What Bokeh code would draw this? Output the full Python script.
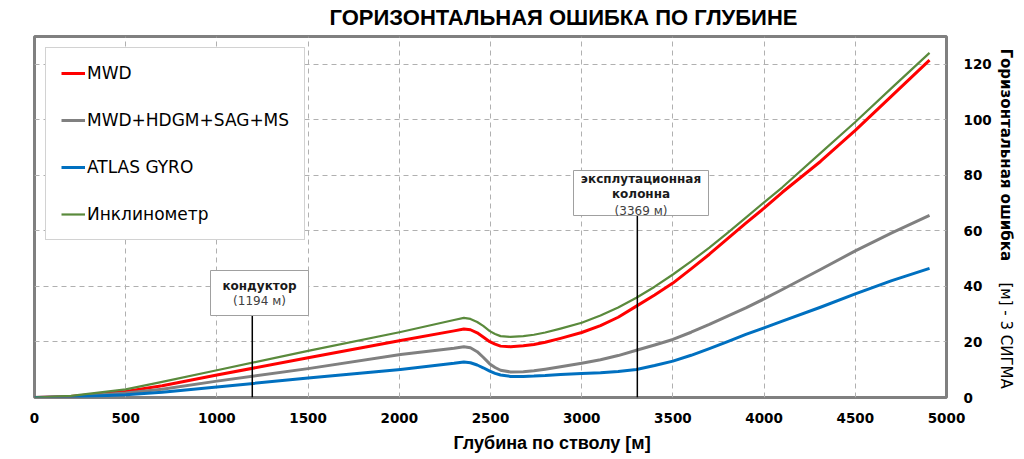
import math
from bokeh.plotting import figure
from bokeh.models import Range1d, FixedTicker, Label, Legend, LegendItem
from bokeh.core.properties import value
from bokeh.embed import file_html
from bokeh.resources import INLINE

# ---- data ----
depth = [0, 200, 500, 700, 1000, 1500, 2007, 2300, 2354, 2390, 2427, 2460, 2496, 2525, 2555, 2610,
         2680, 2738, 2800, 2884, 3000, 3103, 3200, 3300, 3400, 3500, 3600, 3700, 3800, 3900, 4000,
         4100, 4309, 4500, 4700, 4907]
mwd = [0, 0.4, 2.2, 4.2, 8.1, 14.3, 20.5, 24.0, 24.7, 24.4, 23.3, 21.8, 20.1, 19.2, 18.5, 18.3,
       18.6, 19.1, 19.9, 21.3, 23.4, 25.9, 28.9, 32.9, 36.9, 41.2, 46.3, 51.6, 57.2, 62.8, 68.2,
       73.9, 85.0, 96.2, 108.6, 121.5]
mwd_hdgm = [0, 0.3, 1.6, 3.0, 5.9, 10.4, 15.5, 17.7, 18.3, 17.9, 16.5, 14.5, 12.1, 10.8, 9.8, 9.2,
            9.3, 9.6, 10.2, 11.1, 12.3, 13.6, 15.1, 17.0, 18.9, 20.9, 23.5, 26.3, 29.3, 32.3, 35.5,
            38.9, 46.1, 52.8, 59.3, 65.6]
atlas_gyro = [0, 0.2, 1.0, 1.9, 3.8, 7.0, 10.1, 12.3, 12.8, 12.5, 11.7, 10.7, 9.5, 8.7, 8.1, 7.6,
              7.6, 7.7, 7.9, 8.3, 8.6, 8.9, 9.4, 10.1, 11.5, 13.1, 15.2, 17.6, 20.1, 22.7, 25.1,
              27.5, 32.5, 37.3, 42.1, 46.5]
inclinometer = [0, 0.6, 2.9, 5.6, 9.8, 16.8, 23.6, 27.9, 28.7, 28.3, 27.2, 25.8, 23.9, 22.9, 22.1, 21.8,
                22.1, 22.6, 23.4, 24.8, 26.9, 29.5, 32.4, 35.9, 39.9, 44.3, 49.0, 54.0, 59.3, 64.8, 70.3,
                75.7, 88.0, 99.2, 111.5, 124.1]
series_names = ["MWD", "MWD+HDGM+SAG+MS", "ATLAS GYRO", "Инклинометр"]
x_ticks = [0, 500, 1000, 1500, 2000, 2500, 3000, 3500, 4000, 4500, 5000]
y_ticks = [0, 20, 40, 60, 80, 100, 120]
marker_depth = [1194, 3305]
marker_titles = [["кондуктор"], ["эксплутационная", "колонна"]]
marker_values = ["(1194 м)", "(3369 м)"]

title_text = "ГОРИЗОНТАЛЬНАЯ ОШИБКА ПО ГЛУБИНЕ"
x_title = "Глубина по стволу [м]"
y_title_bold = "Горизонтальная ошибка"
y_title_unit = "[м] - 3 СИГМА"

# ---- layout ----
W, H = 1024, 459
LEFT, RIGHT, TOP, BOTTOM = 34, 78, 36, 62
FH = H - TOP - BOTTOM
FW = W - LEFT - RIGHT
YMAX = 130

def py2d(py):
    return (H - BOTTOM - py) * YMAX / FH

def px2d(px):
    return (px - LEFT) * 5000 / FW

p = figure(width=W, height=H, output_backend="svg", toolbar_location=None,
           x_range=Range1d(0, 5000), y_range=Range1d(0, YMAX),
           y_axis_location="right",
           min_border_left=LEFT, min_border_right=RIGHT,
           min_border_top=TOP, min_border_bottom=BOTTOM)
p.background_fill_color = "white"
p.border_fill_color = "white"
p.outline_line_color = "#808080"
p.outline_line_width = 3

for ax in (p.xaxis, p.yaxis):
    ax.axis_line_color = None
    ax.major_tick_line_color = None
    ax.minor_tick_line_color = None
    ax.major_label_text_font = "DejaVu Sans"
    ax.major_label_text_font_style = "bold"
    ax.major_label_text_font_size = "13.5px"
    ax.major_label_text_color = "#000000"
p.xaxis.ticker = FixedTicker(ticks=x_ticks)
p.yaxis.ticker = FixedTicker(ticks=y_ticks)
p.xaxis.major_label_standoff = 9
p.yaxis.major_label_standoff = 11

p.xgrid.ticker = FixedTicker(ticks=x_ticks)
p.ygrid.ticker = FixedTicker(ticks=y_ticks)
for g in (p.xgrid, p.ygrid):
    g.grid_line_color = "#b0b0b0"
    g.grid_line_dash = "5 4"
    g.grid_line_width = 1

colors = ["#ff0000", "#808080", "#0070c0", "#5a8a3c"]
widths = [3, 3, 3, 2.2]
ys = [mwd, mwd_hdgm, atlas_gyro, inclinometer]
renderers = []
for yv, c, w in zip(ys, colors, widths):
    renderers.append(p.line(depth, yv, line_color=c, line_width=w, line_join="round"))

legend = Legend(items=[LegendItem(label=n, renderers=[r]) for n, r in zip(series_names, renderers)],
                location="top_left")
legend.margin = 11
legend.padding = 15
legend.spacing = 27
legend.label_height = 20
legend.glyph_height = 20
legend.glyph_width = 24
legend.label_standoff = 2
legend.label_text_font = "DejaVu Sans"
legend.label_text_font_size = "17px"
legend.label_text_color = "#000000"
legend.border_line_color = "#a6a6a6"
legend.border_line_width = 1
legend.background_fill_alpha = 1
p.add_layout(legend)

# ---- marker annotations ----
box_px = [(259, 292.5, 98, 45), (640.5, 192.5, 135, 45)]
title_py = [[285], [178, 193]]
value_py = [300, 210]
for i, d in enumerate(marker_depth):
    cx, cy, bw, bh = box_px[i]
    bottom_y = py2d(cy + bh / 2)
    p.segment(x0=[d], y0=[0], x1=[d], y1=[bottom_y], line_color="#000000", line_width=1.5)
    p.rect(x=[px2d(cx)], y=[py2d(cy)], width=bw, height=bh, width_units="screen", height_units="screen",
           fill_color="white", line_color="#a0a0a0", line_width=1)
    for t, ty in zip(marker_titles[i], title_py[i]):
        p.text(x=[px2d(cx)], y=[py2d(ty)], text=[t], text_align="center", text_baseline="middle",
               text_font=value("DejaVu Sans"), text_font_style="bold",
               text_font_size="12px", text_color="#1a1a1a")
    p.text(x=[px2d(cx)], y=[py2d(value_py[i])], text=[marker_values[i]], text_align="center",
           text_baseline="middle", text_font=value("DejaVu Sans"),
           text_font_size="12px", text_color="#404040")

# ---- titles (canvas units, placed in side panels so they are not clipped) ----
p.add_layout(Label(x=563, y=17, x_units="canvas", y_units="canvas", text=title_text,
                   text_align="center", text_baseline="middle",
                   text_font="Liberation Sans", text_font_style="bold",
                   text_font_size="22px", text_color="#000000"), "above")
p.add_layout(Label(x=453, y=442, x_units="canvas", y_units="canvas", text=x_title,
                   text_align="left", text_baseline="middle",
                   text_font="Liberation Sans", text_font_style="bold",
                   text_font_size="18px", text_color="#000000"), "below")
p.add_layout(Label(x=1005, y=48, x_units="canvas", y_units="canvas", text=y_title_bold,
                   angle=-math.pi / 2, text_align="left", text_baseline="middle",
                   text_font="DejaVu Sans", text_font_style="bold",
                   text_font_size="15px", text_color="#000000"), "left")
p.add_layout(Label(x=1005, y=282, x_units="canvas", y_units="canvas", text=y_title_unit,
                   angle=-math.pi / 2, text_align="left", text_baseline="middle",
                   text_font="DejaVu Sans", text_font_size="15px", text_color="#000000"), "right")

open("out.html", "w").write(file_html(p, INLINE))
